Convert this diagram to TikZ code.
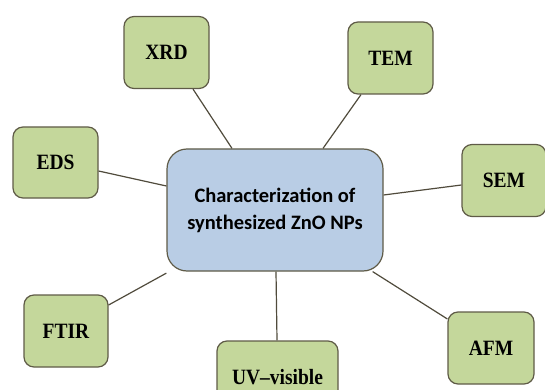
\documentclass[tikz,border=0pt]{standalone}
\usepackage{fontspec}
\setmainfont{Liberation Serif}
\newfontfamily\calib{Carlito}
\definecolor{gfill}{HTML}{C4D79B}
\definecolor{bfill}{HTML}{B9CDE5}
\definecolor{bord}{HTML}{5F5B47}
\definecolor{lnk}{HTML}{504B3C}
\newcommand{\tall}[1]{\scalebox{1}[1.12]{#1}}
\begin{document}
\begin{tikzpicture}[x=1pt,y=-1pt,
  tech/.style={draw=bord, line width=1.2pt, fill=gfill, rounded corners=10pt,
    minimum width=85pt, minimum height=72pt, inner sep=0pt,
    font=\fontsize{19.5}{22}\selectfont\bfseries},
  hub/.style={draw=bord, line width=1.2pt, fill=bfill, rounded corners=20pt,
    minimum width=216pt, minimum height=122pt, inner sep=0pt, align=center,
    font=\calib\fontsize{20.5}{27}\selectfont\bfseries},
  link/.style={draw=lnk, line width=1.2pt}]
\useasboundingbox (0,0) rectangle (545,390);
\node[hub] (c) at (275,210) {Characterization of\\synthesized ZnO NPs};
\node[tech] (xrd) at (166.5,52.5) {\tall{XRD}};
\node[tech] (tem) at (390.5,58) {\tall{TEM}};
\node[tech, minimum height=71pt] (eds) at (55.5,162.5) {\tall{EDS}};
\node[tech, minimum width=84pt] (sem) at (504,180.5) {\tall{SEM}};
\node[tech, minimum width=84pt] (ftir) at (66,331) {\tall{FTIR}};
\node[tech, minimum width=121pt] (uv) at (277.5,377) {\tall{UV--visible}};
\node[tech, minimum width=86pt] (afm) at (491,348) {\tall{AFM}};
\draw[link] ([xshift=26.5pt]xrd.south) -- ([xshift=-43pt]c.north);
\draw[link] ([xshift=-29.5pt]tem.south) -- ([xshift=48pt]c.north);
\draw[link] ([yshift=-8.5pt]eds.east) -- ([yshift=24pt]c.west);
\draw[link] ([yshift=-4.5pt]sem.west) -- ([yshift=15pt]c.east);
\draw[link] ([yshift=26pt]ftir.east) -- ([yshift=-1.5pt]c.south west);
\draw[link] ([xshift=1pt]c.south) -- ([xshift=-0.5pt]uv.north);
\draw[link] ([xshift=-11pt]c.south east) -- ([yshift=29pt]afm.west);
\end{tikzpicture}
\end{document}
